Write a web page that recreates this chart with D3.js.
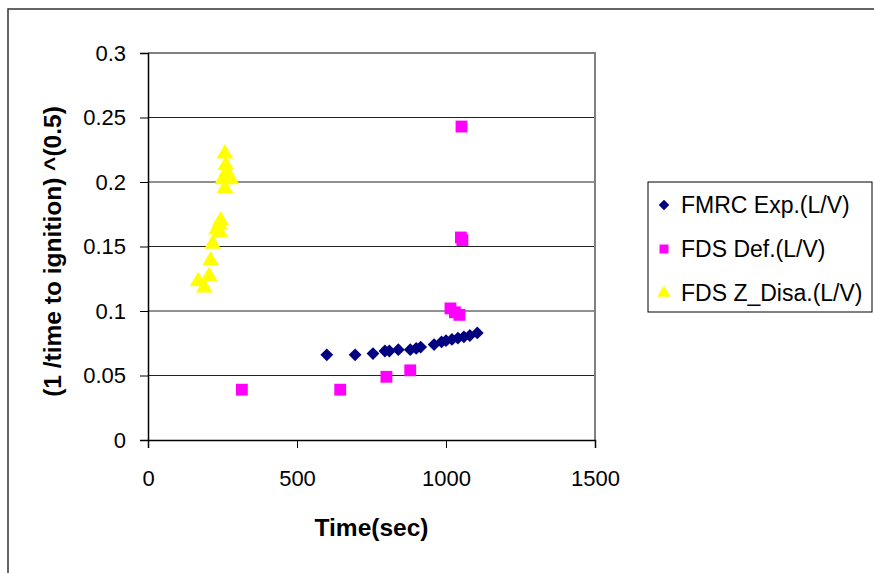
<!DOCTYPE html>
<html>
<head>
<meta charset="utf-8">
<script src="https://cdn.jsdelivr.net/npm/d3@7"></script>
<style>
  html, body { margin: 0; padding: 0; background: #fff; }
  svg { display: block; font-family: "Liberation Sans", Arial, sans-serif; }
</style>
</head>
<body>
<svg id="chart" width="874" height="573"></svg>
<script>
// FMRC experiment (L/V)
const fmrcTime = [600, 695, 755, 795, 810, 840, 880, 900, 915, 960, 985, 1000, 1020, 1040, 1060, 1080, 1105];
const fmrcValue = [0.066, 0.066, 0.067, 0.069, 0.069, 0.070, 0.070, 0.071, 0.072, 0.074, 0.076, 0.077, 0.078, 0.079, 0.080, 0.081, 0.083];

// FDS default (L/V)
const fdsDefTime = [315, 645, 800, 880, 1015, 1030, 1045, 1050, 1055, 1052];
const fdsDefValue = [0.039, 0.039, 0.049, 0.054, 0.102, 0.099, 0.097, 0.157, 0.155, 0.243];

// FDS Z_Disa (L/V)
const fdsZTime = [258, 261, 264, 266, 251, 278, 258, 244, 239, 230, 241, 217, 210, 205, 168, 189];
const fdsZValue = [0.222, 0.213, 0.208, 0.204, 0.202, 0.202, 0.195, 0.170, 0.167, 0.163, 0.161, 0.152, 0.139, 0.127, 0.123, 0.118];

const xTicks = [0, 500, 1000, 1500];
const yTicks = [0, 0.05, 0.1, 0.15, 0.2, 0.25, 0.3];
const seriesNames = ["FMRC Exp.(L/V)", "FDS Def.(L/V)", "FDS Z_Disa.(L/V)"];

const svg = d3.select("#chart");

// outer chart frame
svg.append("rect")
  .attr("x", 8).attr("y", 9).attr("width", 900).attr("height", 600)
  .attr("fill", "none").attr("stroke", "#333").attr("stroke-width", 1.5);

const plotLeft = 148, plotRight = 595, plotTop = 53, plotBottom = 440;
const x = d3.scaleLinear().domain([0, 1500]).range([plotLeft, plotRight]);
const y = d3.scaleLinear().domain([0, 0.3]).range([plotBottom, plotTop]);

// horizontal gridlines
svg.append("g")
  .selectAll("line")
  .data(yTicks.filter(d => d > 0 && d < 0.3))
  .join("line")
  .attr("x1", plotLeft).attr("x2", plotRight)
  .attr("y1", d => y(d)).attr("y2", d => y(d))
  .attr("stroke", "#222").attr("stroke-width", 1);

// plot area top and right border
svg.append("path")
  .attr("d", `M${plotLeft},${plotTop}H${plotRight}V${plotBottom}`)
  .attr("fill", "none").attr("stroke", "#808080").attr("stroke-width", 2);

// axes
const xAxis = d3.axisBottom(x).tickValues(xTicks).tickFormat(d3.format("d")).tickSize(8).tickPadding(22);
const gx = svg.append("g").attr("transform", `translate(0,${plotBottom})`).call(xAxis);
const yAxis = d3.axisLeft(y).tickValues(yTicks).tickFormat(d => d === 0 ? "0" : String(+d.toFixed(2))).tickSize(8).tickPadding(14);
const gy = svg.append("g").attr("transform", `translate(${plotLeft},0)`).call(yAxis);

[gx, gy].forEach(g => {
  g.select(".domain").attr("stroke", "#000").attr("stroke-width", 1.5);
  g.selectAll(".tick line").attr("stroke", "#000");
  g.selectAll(".tick text").attr("fill", "#000").style("font-size", "22px")
    .style("font-family", "'Liberation Sans', Arial, sans-serif");
});

// axis titles
svg.append("text")
  .attr("x", (plotLeft + plotRight) / 2).attr("y", 536)
  .attr("text-anchor", "middle")
  .style("font-size", "24.5px").style("font-weight", "bold")
  .text("Time(sec)");

svg.append("text")
  .attr("transform", `translate(61,${(plotTop + plotBottom) / 2 + 5}) rotate(-90)`)
  .attr("text-anchor", "middle")
  .style("font-size", "24.5px").style("font-weight", "bold")
  .text("(1 /time to ignition) ^(0.5)");

// markers: diamonds are squares turned by 45 degrees
const diamond = d3.symbol().type(d3.symbolSquare).size(82);
const square = d3.symbol().type(d3.symbolSquare).size(140);
const triangle = d3.symbol().type(d3.symbolTriangle).size(120);

const fmrc = fmrcTime.map((t, i) => ({ t, v: fmrcValue[i] }));
const fdsDef = fdsDefTime.map((t, i) => ({ t, v: fdsDefValue[i] }));
const fdsZ = fdsZTime.map((t, i) => ({ t, v: fdsZValue[i] }));

svg.append("g").selectAll("path").data(fmrc).join("path")
  .attr("d", diamond)
  .attr("transform", d => `translate(${x(d.t)},${y(d.v)}) rotate(45)`)
  .attr("fill", "#000080");

svg.append("g").selectAll("path").data(fdsDef).join("path")
  .attr("d", square)
  .attr("transform", d => `translate(${x(d.t)},${y(d.v)})`)
  .attr("fill", "#FF00FF");

svg.append("g").selectAll("path").data(fdsZ).join("path")
  .attr("d", triangle)
  .attr("transform", d => `translate(${x(d.t)},${y(d.v)})`)
  .attr("fill", "#FFFF00");

// legend
const lg = svg.append("g");
lg.append("rect")
  .attr("x", 648).attr("y", 182).attr("width", 224).attr("height", 130)
  .attr("fill", "#fff").attr("stroke", "#000").attr("stroke-width", 1);

const legendSymbols = [
  { sym: d3.symbol().type(d3.symbolSquare).size(55), color: "#000080", rot: 45 },
  { sym: d3.symbol().type(d3.symbolSquare).size(80), color: "#FF00FF", rot: 0 },
  { sym: d3.symbol().type(d3.symbolTriangle).size(75), color: "#FFFF00", rot: 0 }
];
const legendY = d3.scalePoint().domain(seriesNames).range([205, 293]);

seriesNames.forEach((name, i) => {
  const cy = legendY(name);
  lg.append("path")
    .attr("d", legendSymbols[i].sym)
    .attr("transform", `translate(664,${cy}) rotate(${legendSymbols[i].rot})`)
    .attr("fill", legendSymbols[i].color);
  lg.append("text")
    .attr("x", 681).attr("y", cy + 8)
    .style("font-size", "23px")
    .text(name);
});
</script>
</body>
</html>
